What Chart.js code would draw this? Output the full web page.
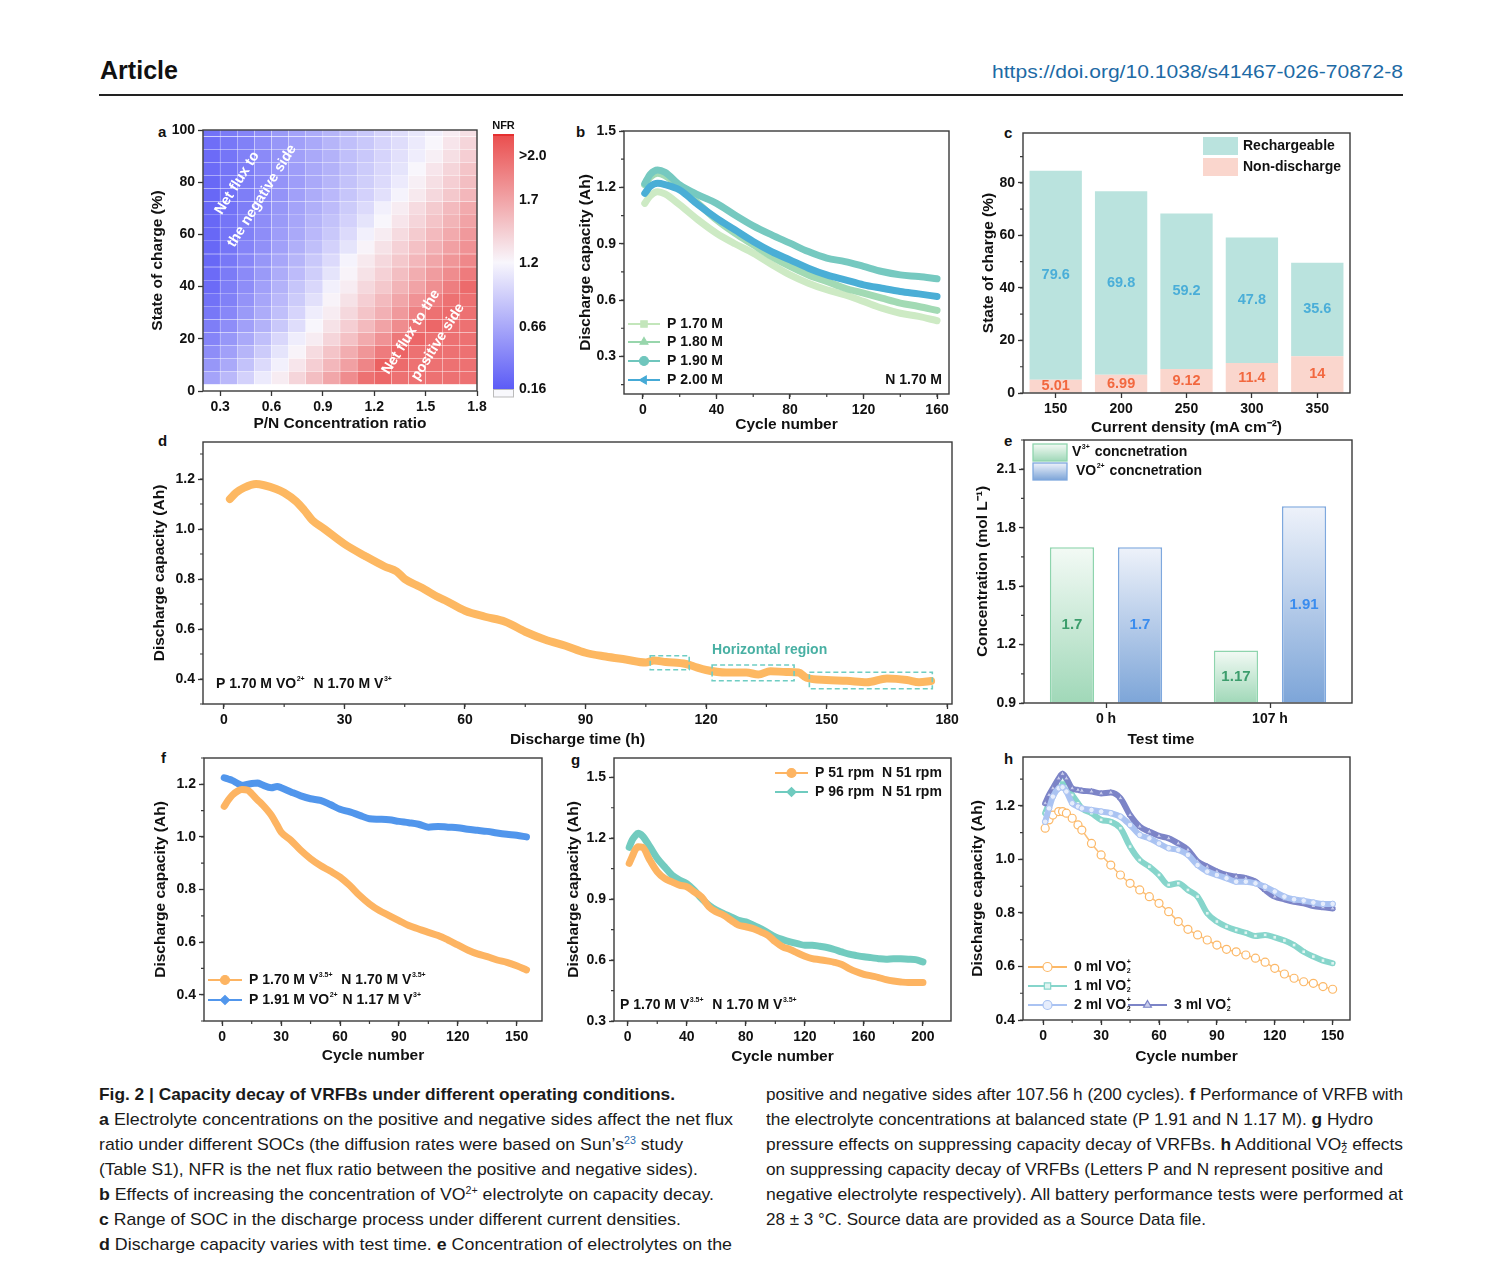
<!DOCTYPE html>
<html>
<head>
<meta charset="utf-8">
<title>Fig. 2 Capacity decay of VRFBs</title>
<script src="https://cdn.jsdelivr.net/npm/chart.js@4.4.1/dist/chart.umd.min.js"></script>
<style>
  html, body { margin: 0; padding: 0; background: #fff; }
  body { position: relative; width: 1489px; height: 1268px; overflow: hidden;
         font-family: 'Liberation Sans', Arial, sans-serif; color: #111; }
  .abs { position: absolute; white-space: nowrap; }
  .letter { position: absolute; font-weight: bold; font-size: 15px; line-height: 16px; }
  .cap { position: absolute; white-space: nowrap; font-size: 17px; line-height: 20px; color: #1a1a1a; }
  .cap sup { font-size: 60%; vertical-align: 0.55em; line-height: 0; }
  .ref { color: #2a6db0; }
  .ss { display: inline-block; vertical-align: -0.3em; line-height: 0.62em; font-size: 60%; }
</style>
</head>
<body>

<div class="abs fit" data-w="78" style="left:100px;top:56px;font-weight:bold;font-size:25px;line-height:28px;">Article</div>
<div class="abs fit" data-w="411" style="left:992px;top:61px;font-size:19px;line-height:22px;color:#1d6aa5;">https://doi.org/10.1038/s41467-026-70872-8</div>
<div class="abs" style="left:99px;top:94px;width:1304px;height:1.5px;background:#222;"></div>

<div class="letter" style="left:158px;top:124px;">a</div>
<div class="letter" style="left:576px;top:124px;">b</div>
<div class="letter" style="left:1004px;top:125px;">c</div>
<div class="letter" style="left:158px;top:433px;">d</div>
<div class="letter" style="left:1004px;top:433px;">e</div>
<div class="letter" style="left:161px;top:750px;">f</div>
<div class="letter" style="left:571px;top:752px;">g</div>
<div class="letter" style="left:1004px;top:751px;">h</div>

<div class="cap fit" data-w="576" style="left:99px;top:1085px;font-weight:bold;">Fig. 2 | Capacity decay of VRFBs under different operating conditions.</div>
<div class="cap fit" data-w="634" style="left:99px;top:1110px;"><b>a</b> Electrolyte concentrations on the positive and negative sides affect the net flux</div>
<div class="cap fit" data-w="584" style="left:99px;top:1135px;">ratio under different SOCs (the diffusion rates were based on Sun’s<sup class="ref">23</sup> study</div>
<div class="cap fit" data-w="599" style="left:99px;top:1160px;">(Table S1), NFR is the net flux ratio between the positive and negative sides).</div>
<div class="cap fit" data-w="615" style="left:99px;top:1185px;"><b>b</b> Effects of increasing the concentration of VO<sup>2+</sup> electrolyte on capacity decay.</div>
<div class="cap fit" data-w="582" style="left:99px;top:1210px;"><b>c</b> Range of SOC in the discharge process under different current densities.</div>
<div class="cap fit" data-w="633" style="left:99px;top:1235px;"><b>d</b> Discharge capacity varies with test time. <b>e</b> Concentration of electrolytes on the</div>

<div class="cap fit" data-w="637" style="left:766px;top:1085px;">positive and negative sides after 107.56 h (200 cycles). <b>f</b> Performance of VRFB with</div>
<div class="cap fit" data-w="607" style="left:766px;top:1110px;">the electrolyte concentrations at balanced state (P 1.91 and N 1.17 M). <b>g</b> Hydro</div>
<div class="cap fit" data-w="637" style="left:766px;top:1135px;">pressure effects on suppressing capacity decay of VRFBs. <b>h</b> Additional VO<span class="ss">+<br>2</span> effects</div>
<div class="cap fit" data-w="617" style="left:766px;top:1160px;">on suppressing capacity decay of VRFBs (Letters P and N represent positive and</div>
<div class="cap fit" data-w="637" style="left:766px;top:1185px;">negative electrolyte respectively). All battery performance tests were performed at</div>
<div class="cap fit" data-w="440" style="left:766px;top:1210px;">28 ± 3 °C. Source data are provided as a Source Data file.</div>

<script>
// ---------------- data ----------------

// a: net flux ratio map, colour level 0 = deepest blue, 5 = white, 10 = deepest red
const ratioCenters = [0.25, 0.35, 0.45, 0.55, 0.65, 0.75, 0.85, 0.95, 1.05, 1.15, 1.25, 1.35, 1.45, 1.55, 1.65, 1.75];
const socRows = [100, 95, 90, 85, 80, 75, 70, 65, 60, 55, 50, 45, 40, 35, 30, 25, 20, 15, 10, 5];
const nfrLevels = [
  [0.7, 1.0, 1.3, 1.6, 2.0, 2.3, 2.6, 2.9, 3.2, 3.5, 3.9, 4.2, 4.5, 4.8, 5.3, 5.7],
  [0.6, 0.9, 1.2, 1.6, 1.9, 2.2, 2.5, 2.9, 3.2, 3.5, 3.9, 4.2, 4.6, 5.0, 5.5, 6.0],
  [0.5, 0.8, 1.2, 1.5, 1.8, 2.2, 2.5, 2.8, 3.2, 3.5, 3.9, 4.3, 4.7, 5.2, 5.7, 6.2],
  [0.5, 0.8, 1.1, 1.5, 1.8, 2.1, 2.5, 2.8, 3.2, 3.6, 4.0, 4.4, 5.0, 5.5, 6.0, 6.5],
  [0.4, 0.8, 1.1, 1.4, 1.8, 2.1, 2.5, 2.9, 3.3, 3.7, 4.1, 4.6, 5.2, 5.7, 6.2, 6.7],
  [0.4, 0.7, 1.1, 1.4, 1.8, 2.2, 2.6, 3.0, 3.4, 3.8, 4.3, 4.9, 5.4, 5.9, 6.4, 6.9],
  [0.4, 0.7, 1.1, 1.5, 1.9, 2.3, 2.7, 3.1, 3.6, 4.1, 4.8, 5.3, 5.8, 6.3, 6.8, 7.3],
  [0.4, 0.8, 1.2, 1.6, 2.0, 2.4, 2.9, 3.3, 3.8, 4.4, 5.0, 5.5, 6.0, 6.5, 7.0, 7.5],
  [0.4, 0.8, 1.2, 1.6, 2.1, 2.5, 3.0, 3.5, 4.1, 4.8, 5.3, 5.8, 6.3, 6.8, 7.3, 7.8],
  [0.4, 0.8, 1.3, 1.7, 2.2, 2.7, 3.2, 3.8, 4.4, 5.1, 5.6, 6.1, 6.6, 7.1, 7.6, 8.0],
  [0.4, 0.9, 1.4, 1.9, 2.4, 2.9, 3.5, 4.1, 4.9, 5.4, 5.9, 6.4, 6.9, 7.4, 7.9, 8.3],
  [0.5, 1.0, 1.5, 2.0, 2.6, 3.1, 3.7, 4.4, 5.1, 5.6, 6.1, 6.7, 7.2, 7.7, 8.2, 8.7],
  [0.5, 1.1, 1.6, 2.2, 2.8, 3.4, 4.0, 4.8, 5.3, 5.9, 6.4, 7.0, 7.5, 8.1, 8.6, 9.2],
  [0.7, 1.2, 1.8, 2.4, 3.0, 3.6, 4.3, 5.1, 5.6, 6.2, 6.8, 7.4, 8.0, 8.6, 9.0, 9.0],
  [0.9, 1.4, 2.0, 2.6, 3.2, 3.9, 4.7, 5.3, 5.9, 6.5, 7.1, 7.8, 8.5, 9.0, 9.2, 9.0],
  [1.1, 1.6, 2.2, 2.8, 3.5, 4.2, 5.0, 5.6, 6.2, 6.8, 7.5, 8.2, 8.9, 9.3, 9.0, 9.0],
  [1.3, 1.9, 2.5, 3.2, 4.0, 4.7, 5.3, 6.0, 6.6, 7.3, 8.0, 8.8, 9.3, 9.0, 9.0, 9.0],
  [1.6, 2.2, 2.9, 3.6, 4.4, 5.1, 5.8, 6.5, 7.2, 7.9, 8.7, 9.4, 9.0, 9.0, 9.0, 9.0],
  [1.9, 2.5, 3.3, 4.1, 4.8, 5.5, 6.2, 6.9, 7.6, 8.4, 9.5, 9.2, 9.0, 9.0, 9.0, 9.0],
  [2.3, 3.0, 3.8, 4.6, 5.3, 6.0, 6.7, 7.4, 8.2, 9.0, 9.3, 9.0, 9.0, 9.0, 9.0, 9.0]
];
const nfrTickPos = [0, 0.245, 0.498, 0.747, 0.921];
const nfrTickLabels = ['0.16', '0.66', '1.2', '1.7', '>2.0'];

// b: VO2+ concentration series
const bCycles = [1, 4, 8, 12, 20, 30, 40, 50, 60, 70, 80, 90, 100, 110, 120, 130, 140, 150, 160];
const bP170 = [1.115, 1.155, 1.177, 1.165, 1.107, 1.027, 0.956, 0.900, 0.850, 0.790, 0.734, 0.690, 0.655, 0.628, 0.593, 0.557, 0.530, 0.513, 0.490];
const bP180 = [1.213, 1.255, 1.275, 1.262, 1.204, 1.115, 1.027, 0.956, 0.894, 0.832, 0.779, 0.734, 0.699, 0.663, 0.637, 0.610, 0.584, 0.566, 0.545];
const bP190 = [1.220, 1.270, 1.293, 1.280, 1.213, 1.160, 1.115, 1.053, 0.995, 0.947, 0.903, 0.858, 0.823, 0.805, 0.779, 0.752, 0.734, 0.725, 0.713];
const bP200 = [1.168, 1.205, 1.222, 1.215, 1.186, 1.107, 1.036, 0.974, 0.912, 0.858, 0.814, 0.770, 0.734, 0.708, 0.681, 0.663, 0.646, 0.633, 0.619];

// c: SOC range per current density
const cDensity = ['150', '200', '250', '300', '350'];
const cNonDischarge = [5.01, 6.99, 9.12, 11.4, 14];
const cRechargeable = [79.6, 69.8, 59.2, 47.8, 35.6];

// d: discharge capacity vs time
const dTime = [1.5, 3, 5, 8, 10, 13, 15, 18, 20, 22, 25, 30, 35, 40, 43, 45, 48, 50, 53, 55, 60, 65, 70, 75, 80, 85, 90, 95, 100, 105, 107, 110, 115, 117, 120, 125, 130, 133, 136, 140, 143, 145, 150, 155, 160, 165, 170, 173, 176];
const dCap = [1.12, 1.145, 1.165, 1.18, 1.175, 1.16, 1.145, 1.11, 1.075, 1.035, 1.0, 0.94, 0.893, 0.85, 0.83, 0.80, 0.775, 0.758, 0.73, 0.715, 0.673, 0.649, 0.629, 0.589, 0.557, 0.533, 0.505, 0.49, 0.478, 0.466, 0.474, 0.468, 0.46, 0.45, 0.436, 0.426, 0.426, 0.418, 0.431, 0.428, 0.426, 0.405, 0.396, 0.393, 0.387, 0.402, 0.396, 0.387, 0.392];

// e: electrolyte concentrations
const eTimes = ['0 h', '107 h'];
const eV3 = [1.7, 1.17];
const eVO2 = [1.7, 1.91];

// f: balanced state
const fCycles = [1, 3, 5, 8, 10, 13, 15, 18, 20, 25, 28, 30, 35, 40, 45, 50, 55, 60, 65, 70, 75, 80, 85, 90, 95, 100, 105, 110, 115, 120, 125, 130, 135, 140, 145, 150, 155];
const fStandard = [1.116, 1.139, 1.158, 1.175, 1.180, 1.177, 1.164, 1.14, 1.126, 1.082, 1.044, 1.018, 0.987, 0.949, 0.917, 0.891, 0.870, 0.847, 0.815, 0.777, 0.745, 0.720, 0.701, 0.682, 0.663, 0.650, 0.637, 0.625, 0.608, 0.589, 0.570, 0.555, 0.545, 0.532, 0.523, 0.510, 0.494];
const fBalanced = [1.225, 1.22, 1.215, 1.203, 1.196, 1.2, 1.203, 1.205, 1.199, 1.187, 1.192, 1.187, 1.171, 1.156, 1.145, 1.139, 1.123, 1.105, 1.095, 1.082, 1.069, 1.067, 1.065, 1.059, 1.054, 1.048, 1.037, 1.040, 1.037, 1.035, 1.029, 1.025, 1.021, 1.015, 1.010, 1.006, 1.000];

// g: hydro pressure
const gCycles = [1, 3, 5, 7, 10, 15, 20, 25, 30, 35, 40, 45, 50, 55, 60, 65, 70, 75, 80, 85, 90, 95, 100, 105, 110, 115, 120, 125, 130, 135, 140, 145, 150, 155, 160, 165, 170, 175, 180, 185, 190, 195, 200];
const gP51 = [1.076, 1.109, 1.142, 1.158, 1.155, 1.092, 1.035, 1.002, 0.985, 0.969, 0.961, 0.936, 0.911, 0.862, 0.837, 0.821, 0.796, 0.772, 0.764, 0.755, 0.739, 0.722, 0.690, 0.665, 0.652, 0.635, 0.619, 0.607, 0.602, 0.596, 0.589, 0.578, 0.558, 0.542, 0.530, 0.522, 0.514, 0.504, 0.497, 0.492, 0.489, 0.489, 0.489];
const gP96 = [1.155, 1.191, 1.211, 1.224, 1.211, 1.158, 1.101, 1.059, 1.018, 0.994, 0.977, 0.944, 0.903, 0.870, 0.846, 0.829, 0.813, 0.796, 0.788, 0.772, 0.755, 0.734, 0.714, 0.701, 0.690, 0.681, 0.673, 0.673, 0.668, 0.662, 0.652, 0.640, 0.629, 0.622, 0.616, 0.612, 0.607, 0.604, 0.607, 0.606, 0.604, 0.602, 0.591];

// h: added VO2+ volume
const hCycles = [1, 3, 5, 8, 10, 12, 15, 18, 20, 25, 30, 35, 40, 45, 50, 55, 60, 65, 70, 75, 80, 85, 90, 95, 100, 105, 110, 115, 120, 125, 130, 135, 140, 145, 150];
const h0ml = [1.117, 1.148, 1.166, 1.179, 1.179, 1.173, 1.154, 1.129, 1.110, 1.060, 1.017, 0.979, 0.942, 0.911, 0.886, 0.861, 0.836, 0.805, 0.768, 0.739, 0.718, 0.699, 0.680, 0.664, 0.655, 0.643, 0.631, 0.616, 0.593, 0.572, 0.556, 0.543, 0.537, 0.525, 0.515];
const h1ml = [1.173, 1.210, 1.247, 1.285, 1.297, 1.272, 1.241, 1.210, 1.191, 1.173, 1.148, 1.141, 1.117, 1.048, 0.998, 0.973, 0.942, 0.905, 0.911, 0.886, 0.861, 0.799, 0.768, 0.749, 0.736, 0.726, 0.714, 0.718, 0.709, 0.697, 0.680, 0.655, 0.637, 0.622, 0.612];
const h2ml = [1.141, 1.191, 1.235, 1.266, 1.270, 1.254, 1.210, 1.198, 1.191, 1.185, 1.179, 1.173, 1.160, 1.129, 1.092, 1.079, 1.060, 1.042, 1.036, 1.017, 0.979, 0.955, 0.942, 0.930, 0.917, 0.917, 0.911, 0.898, 0.880, 0.861, 0.851, 0.846, 0.839, 0.834, 0.834];
const h3ml = [1.210, 1.241, 1.266, 1.303, 1.320, 1.303, 1.266, 1.260, 1.257, 1.254, 1.247, 1.250, 1.229, 1.166, 1.123, 1.104, 1.088, 1.079, 1.060, 1.036, 0.992, 0.973, 0.955, 0.942, 0.936, 0.930, 0.917, 0.886, 0.861, 0.851, 0.842, 0.836, 0.826, 0.821, 0.817];

// ---------------- shared setup ----------------
const FONT = "'Liberation Sans', Arial, Helvetica, sans-serif";
const INK = '#111';
const TICK_FONT = { family: FONT, size: 14, weight: 'bold' };
const TITLE_FONT = { family: FONT, size: 15.5, weight: 'bold' };

Chart.defaults.animation = false;
Chart.defaults.responsive = true;
Chart.defaults.maintainAspectRatio = false;
Chart.defaults.devicePixelRatio = 1;
Chart.defaults.events = [];
Chart.defaults.font.family = FONT;
Chart.defaults.plugins.legend.display = false;
Chart.defaults.plugins.tooltip.enabled = false;

function mkCanvas(left, top, width, height) {
  const div = document.createElement('div');
  div.style.cssText = `position:absolute;left:${left}px;top:${top}px;width:${width}px;height:${height}px`;
  const cv = document.createElement('canvas');
  div.appendChild(cv);
  document.body.appendChild(div);
  return cv;
}

// box = plot area (L,T,R,B) plus y-axis width and x-axis height
function place(b) {
  const left = b.L - b.wy, top = b.T - 12;
  const cv = mkCanvas(left, top, b.R + 24 - left, b.B + b.hx - top);
  return { canvas: cv, pad: { top: 12, right: 24, left: 0, bottom: 0 } };
}

function axis(o, fit) {
  const cat = o.type === 'category';
  return {
    type: o.type || 'linear',
    min: o.min, max: o.max,
    offset: cat,
    stacked: !!o.stacked,
    afterBuildTicks: o.ticks ? (s => { s.ticks = o.ticks.map(v => ({ value: v })); }) : undefined,
    afterFit: fit,
    ticks: {
      font: TICK_FONT, color: INK, padding: 3, autoSkip: false, maxRotation: 0,
      callback: o.fmt || function (v) { return this.getLabelForValue(v); }
    },
    grid: { display: true, drawOnChartArea: false, tickLength: 5, tickWidth: 1.3, tickColor: '#333', offset: false },
    border: { display: false },
    title: { display: o.title !== undefined, text: o.title, font: TITLE_FONT, color: INK, padding: { top: 4, bottom: 4 } }
  };
}
const fitX = b => s => { s.height = b.hx; };
const fitY = b => s => { s.width = b.wy; };
const f1 = v => Number(v).toFixed(1);

// text with tiny super/subscripts: parts are strings or {sup, sub}
function rich(ctx, parts, x, y, opt) {
  const o = Object.assign({ size: 14, color: INK, align: 'left' }, opt || {});
  const big = `bold ${o.size}px ${FONT}`;
  const small = `bold ${Math.max(6, Math.round(o.size * 0.5))}px ${FONT}`;
  ctx.save();
  ctx.textBaseline = 'middle';
  ctx.textAlign = 'left';
  const widthOf = p => {
    if (typeof p === 'string') { ctx.font = big; return ctx.measureText(p).width; }
    ctx.font = small;
    return Math.max(p.sup ? ctx.measureText(p.sup).width : 0, p.sub ? ctx.measureText(p.sub).width : 0) + 1.5;
  };
  const total = parts.reduce((s, p) => s + widthOf(p), 0);
  let cx = o.align === 'right' ? x - total : o.align === 'center' ? x - total / 2 : x;
  ctx.fillStyle = o.color;
  parts.forEach(p => {
    const w = widthOf(p);
    if (typeof p === 'string') { ctx.font = big; ctx.fillText(p, cx, y); }
    else {
      ctx.font = small;
      if (p.sup) ctx.fillText(p.sup, cx + 0.5, y - o.size * 0.38);
      if (p.sub) ctx.fillText(p.sub, cx + 0.5, y + o.size * 0.3);
    }
    cx += w;
  });
  ctx.restore();
}

function marker(ctx, style, x, y, color, fill, rot, r) {
  ctx.save();
  ctx.fillStyle = fill || color;
  ctx.strokeStyle = color;
  ctx.lineWidth = 1.2;
  if (Chart.helpers && Chart.helpers.drawPoint) {
    Chart.helpers.drawPoint(ctx, { pointStyle: style, radius: r || 4.5, rotation: rot || 0, borderWidth: 1.2 }, x, y);
  } else {
    ctx.beginPath(); ctx.arc(x, y, r || 4.5, 0, Math.PI * 2); ctx.fill(); ctx.stroke();
  }
  ctx.restore();
}

function legendItem(ctx, x, y, len, color, style, fill, rot, parts) {
  ctx.save();
  ctx.strokeStyle = color;
  ctx.lineWidth = 2;
  ctx.beginPath(); ctx.moveTo(x, y); ctx.lineTo(x + len, y); ctx.stroke();
  ctx.restore();
  marker(ctx, style, x + len / 2, y, color, fill, rot);
  rich(ctx, parts, x + len + 7, y);
}

// box frame + short minor ticks
const framePlugin = {
  id: 'frame',
  afterDraw(chart, args, o) {
    const { ctx, chartArea: a, scales } = chart;
    ctx.save();
    ctx.strokeStyle = '#3a3a3a';
    ctx.lineWidth = 1.4;
    ctx.strokeRect(a.left, a.top, a.right - a.left, a.bottom - a.top);
    ctx.lineWidth = 1.2;
    ctx.beginPath();
    if (o.minorX) {
      const s = scales.x;
      for (let i = Math.ceil(s.min / o.minorX - 1e-9); i * o.minorX <= s.max + 1e-9; i++) {
        const px = s.getPixelForValue(i * o.minorX);
        ctx.moveTo(px, a.bottom); ctx.lineTo(px, a.bottom + 3);
      }
    }
    if (o.minorY) {
      const s = scales.y;
      for (let i = Math.ceil(s.min / o.minorY - 1e-9); i * o.minorY <= s.max + 1e-9; i++) {
        const py = s.getPixelForValue(i * o.minorY);
        ctx.moveTo(a.left, py); ctx.lineTo(a.left - 3, py);
      }
    }
    ctx.stroke();
    ctx.restore();
  }
};

function band(xs, ys, color, extra) {
  return Object.assign({
    data: xs.map((x, i) => ({ x, y: ys[i] })),
    borderColor: color, backgroundColor: color, borderWidth: 7,
    pointRadius: 0, borderJoinStyle: 'round', borderCapStyle: 'round',
    cubicInterpolationMode: 'monotone', fill: false
  }, extra || {});
}

function linePanel(box, xo, yo, datasets, minor, notes) {
  const { canvas, pad } = place(box);
  return new Chart(canvas, {
    type: 'line',
    data: { datasets },
    options: {
      layout: { padding: pad },
      scales: { x: axis(xo, fitX(box)), y: axis(yo, fitY(box)) },
      plugins: { frame: minor }
    },
    plugins: [framePlugin, { id: 'notes', afterDatasetsDraw: chart => notes(chart, chart.ctx, chart.chartArea) }]
  });
}

// colour ramp blue - white - red
function levelColor(v) {
  const t = Math.max(0, Math.min(1, v / 10));
  const lo = [92, 92, 246], mid = [248, 246, 252], hi = [234, 80, 80];
  const [p, q, u] = t < 0.5 ? [lo, mid, t / 0.5] : [mid, hi, (t - 0.5) / 0.5];
  return `rgb(${p.map((c, i) => Math.round(c + (q[i] - c) * u)).join(',')})`;
}

// ---------------- a: heat map ----------------
(() => {
  const box = { L: 203, T: 130, R: 477, B: 391, wy: 59, hx: 46 };
  const { canvas, pad } = place(box);
  const sets = socRows.map((s, i) => ({
    data: ratioCenters.map(x => ({ x, y: [Math.max(0, s - 2.5), Math.min(100, s + 2.5)] })),
    backgroundColor: nfrLevels[i].map(levelColor),
    borderColor: 'rgba(255,255,255,0.25)', borderWidth: 0.5, borderSkipped: false,
    grouped: false, barPercentage: 1, categoryPercentage: 1
  }));
  new Chart(canvas, {
    type: 'bar',
    data: { datasets: sets },
    options: {
      layout: { padding: pad },
      scales: {
        x: axis({ min: 0.2, max: 1.8, ticks: [0.3, 0.6, 0.9, 1.2, 1.5, 1.8], fmt: f1, title: 'P/N Concentration ratio' }, fitX(box)),
        y: axis({ min: 0, max: 100, ticks: [0, 20, 40, 60, 80, 100], fmt: v => v, title: 'State of charge (%)' }, fitY(box))
      },
      plugins: { frame: {} }
    },
    plugins: [framePlugin, {
      id: 'aNotes',
      afterDatasetsDraw(chart) {
        const { ctx, scales: { x, y } } = chart;
        [['Net flux to', 0.40, 79.7], ['the negative side', 0.545, 74.7],
         ['Net flux to the', 1.415, 22.6], ['positive side', 1.572, 18.8]].forEach(([t, vx, vy]) => {
          ctx.save();
          ctx.translate(x.getPixelForValue(vx), y.getPixelForValue(vy));
          ctx.rotate(-58 * Math.PI / 180);
          ctx.font = `bold 14.5px ${FONT}`;
          ctx.fillStyle = '#fff';
          ctx.textAlign = 'center';
          ctx.textBaseline = 'middle';
          ctx.fillText(t, 0, 0);
          ctx.restore();
        });
      }
    }]
  });
})();

// colour bar of panel a
(() => {
  const cv = mkCanvas(488, 118, 80, 290);
  new Chart(cv, {
    type: 'bar',
    data: {
      labels: ['NFR'],
      datasets: [{
        data: [[0, 1]], barPercentage: 1, categoryPercentage: 1, borderWidth: 0,
        backgroundColor: c => {
          const a = c.chart.chartArea;
          if (!a) return '#fff';
          const g = c.chart.ctx.createLinearGradient(0, a.bottom, 0, a.top);
          g.addColorStop(0, levelColor(0)); g.addColorStop(0.5, levelColor(5)); g.addColorStop(1, levelColor(10));
          return g;
        }
      }]
    },
    options: {
      layout: { padding: { left: 5, top: 18, bottom: 19, right: 0 } },
      scales: {
        x: { display: false },
        y: {
          position: 'right', min: 0, max: 1,
          afterBuildTicks: s => { s.ticks = nfrTickPos.map(v => ({ value: v })); },
          afterFit: s => { s.width = 54; },
          ticks: { font: TICK_FONT, color: INK, padding: 5, callback: (v, i) => nfrTickLabels[i] },
          grid: { display: false, drawTicks: false }, border: { display: false }
        }
      }
    },
    plugins: [{
      id: 'cbExtras',
      afterDraw(chart) {
        const { ctx, chartArea: a } = chart;
        ctx.save();
        ctx.fillStyle = '#e53030';
        ctx.fillRect(a.left, a.top - 2, a.right - a.left, 2);
        ctx.fillStyle = '#f8f8fc';
        ctx.strokeStyle = '#bbb';
        ctx.lineWidth = 1;
        ctx.fillRect(a.left, a.bottom, a.right - a.left, 8);
        ctx.strokeRect(a.left + 0.5, a.bottom + 0.5, a.right - a.left - 1, 7.5);
        ctx.restore();
        rich(ctx, ['NFR'], (a.left + a.right) / 2, a.top - 10, { size: 11, align: 'center' });
      }
    }]
  });
})();

// ---------------- b ----------------
linePanel(
  { L: 624, T: 131, R: 949, B: 394, wy: 52, hx: 44 },
  { min: -10.3, max: 166.5, ticks: [0, 40, 80, 120, 160], fmt: v => v, title: 'Cycle number' },
  { min: 0.1, max: 1.5, ticks: [0.3, 0.6, 0.9, 1.2, 1.5], fmt: f1, title: 'Discharge capacity (Ah)' },
  [
    band(bCycles, bP200, '#4aaed6', { order: 1 }),
    band(bCycles, bP190, '#76c9c0', { order: 2 }),
    band(bCycles, bP180, '#a2dab4', { order: 3 }),
    band(bCycles, bP170, '#cdeac4', { order: 4 })
  ],
  { minorX: 20, minorY: 0.15 },
  (chart, ctx, a) => {
    [['P 1.70 M', '#c3e6bb', 'rect', 0, -70], ['P 1.80 M', '#98d6ac', 'triangle', 0, -52],
     ['P 1.90 M', '#6fc6bd', 'circle', 0, -33], ['P 2.00 M', '#45aad6', 'triangle', -90, -14]]
      .forEach(([t, c, s, r, dy]) => legendItem(ctx, a.left + 4, a.bottom + dy, 32, c, s, c, r, [t]));
    rich(ctx, ['N 1.70 M'], a.right - 7, a.bottom - 14, { align: 'right' });
  }
);

// ---------------- c ----------------
(() => {
  const box = { L: 1023, T: 133, R: 1350, B: 393, wy: 48, hx: 48 };
  const { canvas, pad } = place(box);
  new Chart(canvas, {
    type: 'bar',
    data: {
      labels: cDensity,
      datasets: [
        { label: 'Non-discharge', data: cNonDischarge, backgroundColor: '#fad6cd', barPercentage: 0.8, categoryPercentage: 1 },
        { label: 'Rechargeable', data: cRechargeable, backgroundColor: '#bae3de', barPercentage: 0.8, categoryPercentage: 1 }
      ]
    },
    options: {
      layout: { padding: pad },
      scales: {
        x: axis({ type: 'category', stacked: true, title: 'Current density (mA cm⁻²)' }, fitX(box)),
        y: axis({ min: 0, max: 99, stacked: true, ticks: [0, 20, 40, 60, 80], fmt: v => v, title: 'State of charge (%)' }, fitY(box))
      },
      plugins: { frame: { minorY: 10 } }
    },
    plugins: [framePlugin, {
      id: 'cNotes',
      afterDatasetsDraw(chart) {
        const { ctx, chartArea: a } = chart;
        const colors = ['#f2683f', '#4aaed8'];
        chart.data.datasets.forEach((ds, i) => {
          chart.getDatasetMeta(i).data.forEach((bar, j) => {
            rich(ctx, [String(ds.data[j])], bar.x, (bar.y + bar.base) / 2, { size: 14.5, color: colors[i], align: 'center' });
          });
        });
        [['Rechargeable', '#bae3de', 4], ['Non-discharge', '#fad6cd', 25]].forEach(([t, c, dy]) => {
          ctx.fillStyle = c;
          ctx.fillRect(a.right - 147, a.top + dy, 35, 18);
          rich(ctx, [t], a.right - 107, a.top + dy + 9);
        });
      }
    }]
  });
})();

// ---------------- d ----------------
linePanel(
  { L: 203, T: 442, R: 952, B: 704, wy: 57, hx: 49 },
  { min: -5.2, max: 181.2, ticks: [0, 30, 60, 90, 120, 150, 180], fmt: v => v, title: 'Discharge time (h)' },
  { min: 0.3, max: 1.348, ticks: [0.4, 0.6, 0.8, 1.0, 1.2], fmt: f1, title: 'Discharge capacity (Ah)' },
  [band(dTime, dCap, '#fdb862', { borderWidth: 8 })],
  { minorX: 15, minorY: 0.1 },
  (chart, ctx, a) => {
    const { x, y } = chart.scales;
    ctx.save();
    ctx.setLineDash([5, 3]);
    ctx.strokeStyle = '#6fcdc3';
    ctx.lineWidth = 1.6;
    [[106.1, 115.8, 0.437, 0.493], [121.5, 141.9, 0.393, 0.456], [145.7, 176.3, 0.361, 0.427]].forEach(([x0, x1, y0, y1]) => {
      const l = x.getPixelForValue(x0), r = x.getPixelForValue(x1);
      const t = y.getPixelForValue(y1), b = y.getPixelForValue(y0);
      ctx.strokeRect(l, t, r - l, b - t);
    });
    ctx.restore();
    rich(ctx, ['Horizontal region'], x.getPixelForValue(121.5), y.getPixelForValue(0.516), { color: '#48b0a3' });
    rich(ctx, ['P 1.70 M VO', { sup: '2+' }, '  N 1.70 M V', { sup: '3+' }], a.left + 13, a.bottom - 20);
  }
);

// ---------------- e ----------------
(() => {
  const box = { L: 1024, T: 440, R: 1352, B: 703, wy: 55, hx: 50 };
  const { canvas, pad } = place(box);
  const grad = (top, bottom) => c => {
    const ch = c.chart, a = ch.chartArea;
    if (!a || c.raw == null) return bottom;
    const y0 = ch.scales.y.getPixelForValue(c.raw);
    const g = ch.ctx.createLinearGradient(0, y0, 0, a.bottom);
    g.addColorStop(0, top); g.addColorStop(1, bottom);
    return g;
  };
  new Chart(canvas, {
    type: 'bar',
    data: {
      labels: eTimes,
      datasets: [
        { label: 'V3+', data: eV3, base: 0.9, backgroundColor: grad('#f3faf5', '#a0d8b8'), borderColor: '#8ed4ad', borderWidth: 1.6,
          barPercentage: 0.65, categoryPercentage: 0.83 },
        { label: 'VO2+', data: eVO2, base: 0.9, backgroundColor: grad('#eef2fa', '#7da5d8'), borderColor: '#7ea8de', borderWidth: 1.6,
          barPercentage: 0.65, categoryPercentage: 0.83 }
      ]
    },
    options: {
      layout: { padding: pad },
      scales: {
        x: axis({ type: 'category' }, fitX(box)),
        y: axis({ min: 0.9, max: 2.25, ticks: [0.9, 1.2, 1.5, 1.8, 2.1], fmt: f1, title: 'Concentration (mol L⁻¹)' }, fitY(box))
      },
      plugins: { frame: { minorY: 0.15 } }
    },
    plugins: [framePlugin, {
      id: 'eNotes',
      afterDatasetsDraw(chart) {
        const { ctx, chartArea: a } = chart;
        const colors = ['#3c9d6c', '#3a8cee'];
        chart.data.datasets.forEach((ds, i) => {
          chart.getDatasetMeta(i).data.forEach((bar, j) => {
            rich(ctx, [String(ds.data[j])], bar.x, (bar.y + bar.base) / 2, { size: 15, color: colors[i], align: 'center' });
          });
        });
        [[4, '#f3faf5', '#a0d8b8', '#8ed4ad', ['V', { sup: '3+' }, ' concnetration'], 48],
         [23, '#eef2fa', '#7da5d8', '#7ea8de', ['VO', { sup: '2+' }, ' concnetration'], 52]].forEach(([dy, c0, c1, bc, parts, tx]) => {
          const top = a.top + dy;
          const g = ctx.createLinearGradient(0, top, 0, top + 17);
          g.addColorStop(0, c0); g.addColorStop(1, c1);
          ctx.save();
          ctx.fillStyle = g; ctx.strokeStyle = bc; ctx.lineWidth = 1.3;
          ctx.fillRect(a.left + 9, top, 34, 17);
          ctx.strokeRect(a.left + 9, top, 34, 17);
          ctx.restore();
          rich(ctx, parts, a.left + tx, top + 8.5);
        });
        // axis title sits left of centre in the original
        rich(ctx, ['Test time'], a.left + 137, a.bottom + 37, { size: 15.5, align: 'center' });
      }
    }]
  });
})();

// ---------------- f ----------------
linePanel(
  { L: 204, T: 758, R: 542, B: 1021, wy: 57, hx: 48 },
  { min: -9.3, max: 162.9, ticks: [0, 30, 60, 90, 120, 150], fmt: v => v, title: 'Cycle number' },
  { min: 0.3, max: 1.3, ticks: [0.4, 0.6, 0.8, 1.0, 1.2], fmt: f1, title: 'Discharge capacity (Ah)' },
  [
    band(fCycles, fStandard, '#fdb462', { order: 1 }),
    band(fCycles, fBalanced, '#5196ec', { order: 2 })
  ],
  { minorX: 15, minorY: 0.1 },
  (chart, ctx, a) => {
    legendItem(ctx, a.left + 4, a.bottom - 41, 34, '#fdb462', 'circle', '#fdb462', 0,
      ['P 1.70 M V', { sup: '3.5+' }, '  N 1.70 M V', { sup: '3.5+' }]);
    legendItem(ctx, a.left + 4, a.bottom - 21, 34, '#5196ec', 'rectRot', '#5196ec', 0,
      ['P 1.91 M VO', { sup: '2+' }, ' N 1.17 M V', { sup: '3+' }]);
  }
);

// ---------------- g ----------------
linePanel(
  { L: 614, T: 758, R: 951, B: 1021, wy: 54, hx: 49 },
  { min: -9.3, max: 219, ticks: [0, 40, 80, 120, 160, 200], fmt: v => v, title: 'Cycle number' },
  { min: 0.3, max: 1.595, ticks: [0.3, 0.6, 0.9, 1.2, 1.5], fmt: f1, title: 'Discharge capacity (Ah)' },
  [
    band(gCycles, gP51, '#fdb462', { order: 1 }),
    band(gCycles, gP96, '#72cbbf', { order: 2 })
  ],
  { minorX: 20, minorY: 0.15 },
  (chart, ctx, a) => {
    legendItem(ctx, a.right - 176, a.top + 15, 33, '#fdb462', 'circle', '#fdb462', 0, ['P 51 rpm  N 51 rpm']);
    legendItem(ctx, a.right - 176, a.top + 34, 33, '#6fcbbf', 'rectRot', '#6fcbbf', 0, ['P 96 rpm  N 51 rpm']);
    rich(ctx, ['P 1.70 M V', { sup: '3.5+' }, '  N 1.70 M V', { sup: '3.5+' }], a.left + 6, a.bottom - 16);
  }
);

// ---------------- h ----------------
linePanel(
  { L: 1023, T: 757, R: 1350, B: 1020, wy: 59, hx: 50 },
  { min: -10.5, max: 159, ticks: [0, 30, 60, 90, 120, 150], fmt: v => v, title: 'Cycle number' },
  { min: 0.4, max: 1.383, ticks: [0.4, 0.6, 0.8, 1.0, 1.2], fmt: f1, title: 'Discharge capacity (Ah)' },
  [
    band(hCycles, h0ml, '#fcc07a', { order: 4, borderWidth: 1.5, pointRadius: 4, pointStyle: 'circle',
      pointBackgroundColor: '#fff', pointBorderColor: '#fcb867', pointBorderWidth: 1.2 }),
    band(hCycles, h1ml, '#86d5cb', { order: 3, borderWidth: 6, pointRadius: 2.6, pointStyle: 'rect',
      pointBackgroundColor: '#dff4f1', pointBorderColor: '#86d5cb', pointBorderWidth: 1 }),
    band(hCycles, h2ml, '#aac3f2', { order: 1, borderWidth: 6, pointRadius: 2.8, pointStyle: 'circle',
      pointBackgroundColor: '#e6edfc', pointBorderColor: '#aac3f2', pointBorderWidth: 1 }),
    band(hCycles, h3ml, '#7c84c7', { order: 2, borderWidth: 6, pointRadius: 3, pointStyle: 'triangle',
      pointBackgroundColor: '#c9cdec', pointBorderColor: '#7c84c7', pointBorderWidth: 1 })
  ],
  { minorX: 15, minorY: 0.1 },
  (chart, ctx, a) => {
    legendItem(ctx, a.left + 5, a.bottom - 53, 39, '#fcb867', 'circle', '#fff', 0, ['0 ml VO', { sub: '2', sup: '+' }]);
    legendItem(ctx, a.left + 5, a.bottom - 34, 39, '#86d5cb', 'rect', '#dff4f1', 0, ['1 ml VO', { sub: '2', sup: '+' }]);
    legendItem(ctx, a.left + 5, a.bottom - 15, 39, '#aac3f2', 'circle', '#e6edfc', 0, ['2 ml VO', { sub: '2', sup: '+' }]);
    legendItem(ctx, a.left + 105, a.bottom - 15, 39, '#7c84c7', 'triangle', '#c9cdec', 0, ['3 ml VO', { sub: '2', sup: '+' }]);
  }
);

// squeeze the caption / header lines to the measured widths of the condensed journal font
document.querySelectorAll('.fit').forEach(el => {
  const w = el.getBoundingClientRect().width;
  el.style.transformOrigin = '0 50%';
  el.style.transform = `scaleX(${(el.dataset.w / w).toFixed(4)})`;
});
</script>
</body>
</html>
